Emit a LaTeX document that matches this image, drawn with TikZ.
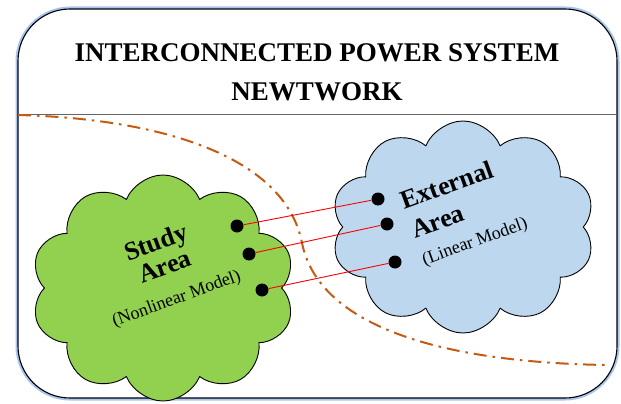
\documentclass[tikz,border=0pt]{standalone}
\usepackage{fontspec}
\setmainfont{Liberation Serif}
\usepackage{tikz}
\usetikzlibrary{shapes.symbols}

\definecolor{studygreen}{HTML}{92D050}
\definecolor{extblue}{HTML}{BDD7EE}
\definecolor{bordorange}{HTML}{C55A11}
\definecolor{glowblue}{HTML}{A9C4F0}

\newcommand{\smallfont}{\fontsize{18}{20}\selectfont\mdseries}

\tikzset{
  area/.style = {cloud, cloud puffs=10, cloud puff arc=135, cloud ignores aspect, draw, line width=0.9pt, inner sep=0pt},
  bus/.style = {circle, fill=black, minimum size=13pt, inner sep=0pt},
  tie/.style = {red, line width=0.9pt},
  arealabel/.style = {rotate=20, inner sep=1pt, font=\fontsize{26}{28}\selectfont\bfseries}
}

\begin{document}
\begin{tikzpicture}[x=1pt, y=-1pt]
  \useasboundingbox (0,0) rectangle (621,404);

  % Frame with soft blue glow
  \draw[glowblue, line width=5pt, rounded corners=52pt] (18,9) rectangle (617,398);
  \draw[fill=white, line width=1.1pt, rounded corners=52pt] (18,9) rectangle (617,398);
  \draw[gray!80!black, line width=0.7pt] (18,114) -- (617,114); % title separator

  % Title
  \node[font=\fontsize{27}{39}\selectfont\bfseries, align=center] (title) at (317,72)
    {INTERCONNECTED POWER SYSTEM\\NEWTWORK};

  % Boundary between the two areas
  \draw[bordorange, line width=2pt, dash pattern=on 13pt off 6pt on 2.5pt off 6pt]
    (18,115) .. controls (170,119) and (286,160) .. (302,243)
             .. controls (318,322) and (430,362) .. (606,365);

  % Areas
  \node[area, fill=studygreen, minimum width=264pt, minimum height=226pt] (study) at (163,288) {};
  \node[area, fill=extblue, minimum width=264pt, minimum height=212pt] (external) at (463,227) {};

  % Labels
  \node[arealabel, align=center] (studytxt) at (166,270)
    {Study\\[-2pt]Area\\[3pt]{\smallfont (Nonlinear Model)}};
  \node[arealabel, align=left] (exttxt) at (464,212)
    {External\\[3pt]Area\\[0pt]{\smallfont (Linear Model)}};

  % Boundary buses
  \node[bus] (s1) at (237,226) {};
  \node[bus] (s2) at (249,254) {};
  \node[bus] (s3) at (262,290) {};
  \node[bus] (e1) at (378,199) {};
  \node[bus] (e2) at (387,224) {};
  \node[bus] (e3) at (395,262) {};

  % Tie lines
  \draw[tie] (s1) -- (e1);
  \draw[tie] (s2) -- (e2);
  \draw[tie] (s3) -- (e3);
\end{tikzpicture}
\end{document}
